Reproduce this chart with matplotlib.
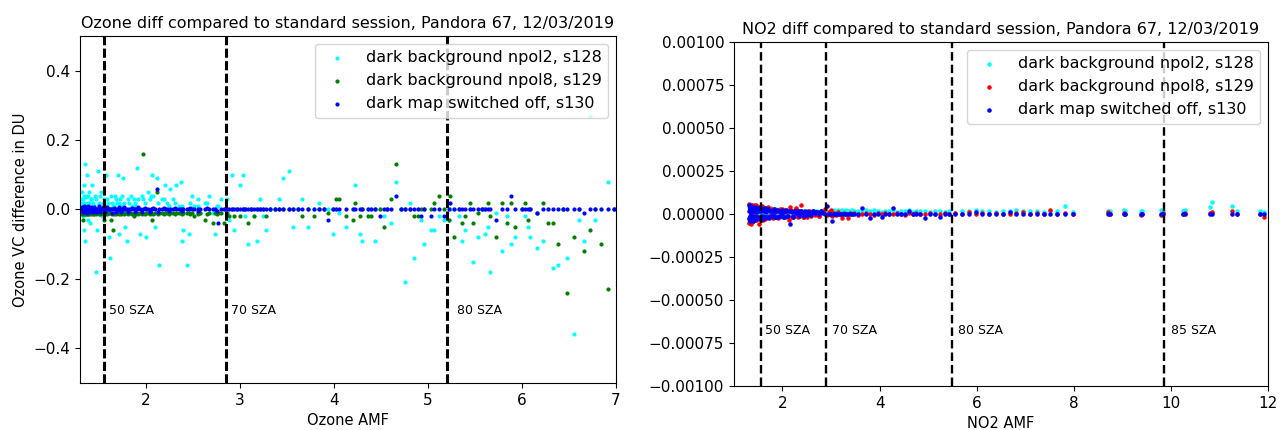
import matplotlib
matplotlib.use("Agg")
import matplotlib.pyplot as plt

# ---- ozone: air mass factor and VC difference to standard session (DU)
o3_amf = [
    1.32, 1.32, 1.33, 1.33, 1.34, 1.34, 1.35, 1.35, 1.36, 1.36,
    1.37, 1.38, 1.39, 1.40, 1.41, 1.42, 1.43, 1.44, 1.46, 1.47,
    1.48, 1.49, 1.50, 1.52, 1.53, 1.55, 1.56, 1.58, 1.60, 1.61,
    1.62, 1.63, 1.65, 1.67, 1.69, 1.70, 1.71, 1.73, 1.75, 1.76,
    1.78, 1.80, 1.82, 1.84, 1.87, 1.89, 1.91, 1.94, 1.97, 2.00,
    2.02, 2.05, 2.07, 2.10, 2.12, 2.14, 2.17, 2.20, 2.23, 2.26,
    2.29, 2.32, 2.35, 2.37, 2.38, 2.40, 2.44, 2.46, 2.49, 2.51,
    2.55, 2.58, 2.63, 2.67, 2.71, 2.74, 2.77, 2.80, 2.83, 2.86,
    2.89, 2.92, 2.94, 2.97, 3.00, 3.03, 3.06, 3.09, 3.12, 3.15,
    3.18, 3.21, 3.25, 3.28, 3.32, 3.37, 3.42, 3.46, 3.52, 3.57,
    3.62, 3.66, 3.73, 3.79, 3.84, 3.90, 3.94, 3.99, 4.02, 4.06,
    4.13, 4.20, 4.23, 4.28, 4.30, 4.36, 4.40, 4.44, 4.49, 4.53,
    4.57, 4.61, 4.66, 4.71, 4.76, 4.81, 4.85, 4.89, 4.93, 4.96,
    5.03, 5.07, 5.12, 5.17, 5.22, 5.24, 5.28, 5.33, 5.36, 5.40,
    5.45, 5.48, 5.53, 5.58, 5.61, 5.64, 5.66, 5.73, 5.79, 5.84,
    5.88, 5.93, 6.00, 6.03, 6.07, 6.09, 6.16, 6.22, 6.28, 6.33,
    6.38, 6.44, 6.48, 6.55, 6.61, 6.66, 6.72, 6.78, 6.84, 6.92,
    6.98,
    # second half of the day, around noon
    1.32, 1.33, 1.34, 1.35, 1.36, 1.37, 1.38, 1.40, 1.42, 1.44,
    1.45, 1.47, 1.50, 1.51, 1.54, 1.57, 1.59, 1.64, 1.66, 1.68,
    1.72, 1.74, 1.77, 1.81, 1.85, 1.88, 1.92, 1.96, 1.99, 2.04,
    2.08, 2.13, 2.19, 2.25, 2.31, 2.39, 2.47, 2.56, 2.65, 2.76,
]
o3_s128 = [
    0.02, 0.05, -0.02, 0.03, 0.07, -0.06, 0.13, -0.09, 0.01, 0.04,
    0.10, -0.03, 0.02, 0.05, -0.04, 0.03, 0.07, 0.01, 0.04, -0.18,
    -0.06, 0.11, 0.02, 0.05, -0.02, 0.03, 0.0, 0.10, 0.02, -0.08,
    -0.14, 0.04, 0.01, 0.04, 0.02, 0.10, -0.07, 0.03, 0.04, 0.09,
    -0.05, -0.09, 0.02, 0.04, 0.03, 0.01, 0.12, -0.07, 0.03, -0.08,
    0.05, 0.04, 0.10, -0.05, 0.09, -0.16, 0.03, 0.07, 0.02, 0.06,
    0.03, 0.07, 0.01, 0.08, -0.09, -0.06, -0.16, -0.07, 0.04, 0.01,
    0.03, -0.01, 0.02, 0.04, -0.01, -0.07, 0.01, 0.03, 0.0, 0.03,
    -0.03, 0.10, -0.06, 0.0, 0.07, 0.10, -0.02, -0.10, 0.0, -0.02,
    -0.09, 0.03, -0.02, -0.06, 0.0, 0.0, 0.03, 0.09, 0.11, -0.05,
    0.0, 0.03, -0.05, 0.0, 0.02, 0.0, 0.0, -0.07, 0.0, -0.01,
    -0.05, 0.0, 0.07, -0.07, -0.09, 0.0, 0.0, -0.09, 0.0, -0.02,
    0.0, -0.04, 0.08, 0.0, -0.21, 0.02, -0.14, 0.0, -0.03, -0.10,
    -0.06, -0.06, -0.02, -0.03, -0.03, 0.0, 0.0, -0.02, -0.09, -0.06,
    0.0, -0.15, -0.08, 0.0, -0.07, -0.05, -0.18, -0.01, -0.12, -0.02,
    -0.10, -0.08, 0.0, -0.02, -0.05, -0.08, -0.11, -0.09, 0.0, -0.17,
    -0.16, 0.0, -0.14, -0.36, -0.03, -0.09, 0.27, -0.03, 0.0, 0.08,
    0.0,
    0.03, 0.01, 0.04, 0.02, 0.035, 0.015, 0.04, 0.02, 0.03, 0.02,
    0.01, 0.03, 0.015, 0.04, 0.02, 0.01, 0.03, 0.02, 0.01, 0.03,
    0.02, 0.01, 0.02, 0.03, 0.01, 0.02, 0.03, 0.04, 0.02, 0.03,
    0.04, 0.02, 0.03, 0.01, 0.02, 0.01, 0.02, 0.01, 0.02, 0.01,
]
o3_s129 = [
    -0.009, -0.01, -0.008, -0.03, -0.009, -0.01, -0.009, -0.008, -0.01, -0.009,
    -0.009, -0.01, -0.009, -0.008, -0.01, -0.009, -0.01, -0.009, -0.01, -0.009,
    -0.008, -0.01, -0.009, -0.01, -0.009, -0.03, -0.009, -0.01, -0.009, -0.01,
    -0.009, -0.03, -0.06, -0.009, -0.01, -0.009, -0.01, -0.009, -0.009, -0.01,
    -0.009, -0.01, -0.009, -0.01, -0.02, -0.009, -0.01, -0.009, 0.16, -0.01,
    -0.009, -0.009, -0.03, -0.009, 0.05, -0.01, -0.009, -0.01, -0.009, -0.01,
    -0.009, -0.01, -0.009, -0.01, -0.009, -0.01, -0.009, -0.01, -0.009, -0.02,
    -0.009, -0.01, -0.03, -0.009, -0.04, -0.009, -0.01, -0.009, -0.04, -0.01,
    -0.02, 0.0, -0.02, 0.0, -0.02, 0.0, 0.0, -0.04, 0.0, -0.02,
    0.0, 0.0, 0.0, -0.02, 0.0, 0.0, 0.0, 0.0, 0.0, 0.0,
    0.0, -0.02, 0.0, -0.02, 0.0, 0.0, -0.01, 0.0, 0.03, 0.03,
    -0.02, -0.03, 0.02, -0.02, 0.0, -0.02, -0.02, 0.0, 0.0, -0.05,
    0.0, 0.03, 0.13, 0.0, 0.0, 0.0, -0.02, -0.02, 0.0, 0.0,
    0.0, 0.02, 0.04, 0.0, -0.03, 0.04, -0.08, 0.0, -0.04, -0.02,
    0.02, -0.04, -0.01, 0.0, 0.0, 0.02, -0.02, -0.08, 0.02, -0.04,
    0.02, -0.05, 0.0, 0.02, -0.03, 0.0, -0.01, 0.02, -0.04, -0.04,
    -0.10, 0.0, -0.24, -0.08, 0.0, -0.12, -0.06, 0.0, -0.10, -0.23,
    0.0,
    -0.012, -0.013, -0.012, -0.012, -0.013, -0.012, -0.012, -0.013, -0.012, -0.012,
    -0.013, -0.012, -0.012, -0.013, -0.012, -0.012, -0.013, -0.012, -0.012, -0.013,
    -0.012, -0.012, -0.013, -0.012, -0.012, -0.013, -0.012, -0.012, -0.013, -0.012,
    -0.012, -0.013, -0.012, -0.012, -0.013, -0.012, -0.012, -0.013, -0.012, -0.012,
]
o3_s130 = [
    0.0, 0.003, -0.003, 0.0, 0.0, 0.004, 0.0, -0.004, 0.0, 0.0,
    0.003, 0.0, 0.0, -0.003, 0.0, 0.0, 0.0, 0.004, 0.0, 0.0,
    0.0, -0.003, 0.0, 0.0, 0.0, 0.0, 0.003, 0.0, 0.0, 0.0,
    0.0, 0.0, 0.0, 0.0, 0.0, 0.0, 0.0, 0.0, 0.0, 0.0,
    0.0, 0.0, 0.0, 0.0, 0.0, 0.0, 0.0, 0.0, 0.0, 0.0,
    0.0, 0.0, 0.0, 0.0, 0.06, 0.0, 0.0, 0.0, 0.0, 0.0,
    0.0, 0.0, 0.0, 0.0, 0.0, 0.0, 0.0, 0.0, 0.0, 0.0,
    0.0, 0.0, 0.0, 0.0, 0.0, 0.0, -0.04, 0.0, 0.0, 0.0,
    0.0, 0.0, 0.0, 0.0, 0.0, 0.0, 0.0, 0.0, 0.0, 0.0,
    0.0, 0.0, 0.0, 0.0, 0.0, 0.0, 0.0, 0.0, 0.0, 0.0,
    0.0, 0.0, 0.0, 0.0, 0.0, 0.0, -0.03, 0.0, 0.0, 0.0,
    0.0, 0.0, 0.0, 0.0, 0.0, 0.0, 0.0, 0.0, -0.02, 0.0,
    0.0, 0.0, 0.04, 0.0, 0.0, 0.0, 0.0, 0.0, -0.02, 0.0,
    -0.02, 0.0, 0.0, -0.02, 0.0, 0.02, 0.0, 0.0, 0.0, 0.0,
    0.0, 0.0, 0.0, 0.0, 0.0, 0.0, 0.0, -0.03, 0.0, 0.0,
    0.04, 0.0, 0.0, 0.0, 0.0, 0.0, -0.01, 0.0, 0.0, 0.0,
    0.0, 0.0, 0.0, 0.0, 0.0, -0.01, 0.0, 0.0, 0.0, 0.0,
    0.0,
    0.008, -0.008, 0.01, -0.006, 0.007, -0.009, 0.009, -0.008, 0.006, -0.008,
    0.008, -0.007, 0.01, -0.008, 0.006, -0.008, 0.007, -0.009, 0.005, -0.008,
    0.006, -0.007, 0.008, -0.006, 0.005, -0.008, 0.006, -0.007, 0.005, -0.006,
    0.004, -0.006, 0.005, -0.005, 0.004, -0.005, 0.003, -0.004, 0.003, -0.004,
]
o3_sza_amf = [1.55, 2.85, 5.2]
o3_sza_text_x = [1.61, 2.91, 5.31]

# ---- NO2: air mass factor and VC difference to standard session
no2_amf = [
    1.32, 1.32, 1.33, 1.33, 1.34, 1.34, 1.35, 1.35, 1.36, 1.36,
    1.37, 1.38, 1.39, 1.40, 1.41, 1.42, 1.43, 1.44, 1.46, 1.47,
    1.48, 1.50, 1.52, 1.54, 1.56, 1.58, 1.60, 1.62, 1.64, 1.66,
    1.68, 1.71, 1.74, 1.77, 1.80, 1.83, 1.86, 1.89, 1.92, 1.95,
    1.98, 2.01, 2.04, 2.07, 2.10, 2.13, 2.16, 2.19, 2.22, 2.25,
    2.28, 2.31, 2.35, 2.39, 2.43, 2.47, 2.51, 2.55, 2.59, 2.63,
    2.67, 2.71, 2.75, 2.79, 2.83, 2.87, 2.91, 2.95, 2.99, 3.03,
    3.07, 3.11, 3.15, 3.19, 3.23, 3.27, 3.31, 3.35, 3.39, 3.43,
    3.48, 3.56, 3.64, 3.72, 3.80, 3.88, 3.96, 4.04, 4.12, 4.20,
    4.28, 4.36, 4.44, 4.52, 4.60, 4.68, 4.76, 4.84, 4.94, 5.04,
    5.14, 5.24, 5.34, 5.44, 5.56, 5.70, 5.84, 5.98, 6.12, 6.26,
    6.40, 6.54, 6.68, 6.82, 6.96, 7.10, 7.24, 7.38, 7.52, 7.66,
    7.82, 7.98, 8.71, 8.74, 9.03, 9.06, 9.38, 9.41, 9.79, 9.84,
    10.26, 10.30, 10.81, 10.84, 11.27, 11.37, 11.83, 11.91,
    # second half of the day, around noon
    1.32, 1.33, 1.33, 1.34, 1.35, 1.35, 1.36, 1.37, 1.38, 1.39,
    1.40, 1.41, 1.43, 1.44, 1.45, 1.47, 1.49, 1.51, 1.53, 1.55,
    1.57, 1.59, 1.61, 1.63, 1.65, 1.67, 1.70, 1.73, 1.76, 1.79,
    1.82, 1.85, 1.88, 1.91, 1.94, 1.97, 2.00, 2.04, 2.08, 2.12,
    2.17, 2.22, 2.27, 2.33, 2.39, 2.45, 2.52, 2.59, 2.67, 2.75,
]
no2_s128 = [
    -4.5e-5, 4.0e-5, -3.5e-5, 2.0e-5, -4.8e-5, 5.0e-5, -3.0e-5, 1.0e-5, -4.0e-5, 3.0e-5,
    -2.0e-5, 4.5e-5, -3.8e-5, 2.5e-5, -1.5e-5, 4.0e-5, -2.5e-5, 3.5e-5, -1.0e-5, 2.0e-5,
    4.5e-5, -2.0e-5, 3.0e-5, 1.0e-5, 4.0e-5, -1.5e-5, 2.5e-5, 3.5e-5, 0.5e-5, 2.0e-5,
    3.0e-5, -1.0e-5, 2.5e-5, 3.5e-5, 1.5e-5, 2.0e-5, 3.0e-5, 0.5e-5, 2.0e-5, 2.5e-5,
    1.0e-5, 2.0e-5, 2.5e-5, 1.5e-5, 2.0e-5, 1.0e-5, 2.5e-5, 1.5e-5, 2.0e-5, 1.0e-5,
    1.5e-5, 2.0e-5, 1.0e-5, 1.5e-5, 2.0e-5, 1.0e-5, 1.5e-5, 1.0e-5, 2.0e-5, 1.5e-5,
    1.0e-5, 1.5e-5, 1.0e-5, 2.0e-5, 1.0e-5, 1.5e-5, 0.5e-5, 1.0e-5, 1.5e-5, 2.0e-5,
    2.5e-5, 2.0e-5, 2.5e-5, 1.5e-5, 2.5e-5, 2.0e-5, 2.5e-5, 1.5e-5, 2.0e-5, 2.5e-5,
    1.5e-5, 2.0e-5, 1.0e-5, 2.5e-5, 1.5e-5, 2.5e-5, 2.0e-5, 1.0e-5, 2.0e-5, 1.5e-5,
    2.5e-5, 1.0e-5, 2.0e-5, 1.5e-5, 2.5e-5, 1.0e-5, 2.0e-5, 1.5e-5, 2.0e-5, 1.0e-5,
    1.5e-5, 2.0e-5, 1.0e-5, 1.5e-5, 0.5e-5, 2.0e-5, 1.5e-5, 2.5e-5, 1.5e-5, 2.0e-5,
    1.0e-5, 2.0e-5, 1.5e-5, 2.5e-5, 2.0e-5, 1.5e-5, 2.0e-5, 1.0e-5, 2.0e-5, 1.5e-5,
    4.9e-5, 1.0e-5, 2.0e-5, 1.5e-5, 2.5e-5, 2.0e-5, 2.0e-5, 1.5e-5, 2.5e-5, 1.5e-5,
    2.0e-5, 2.5e-5, 3.9e-5, 6.8e-5, 4.9e-5, 2.0e-5, 1.5e-5, 1.0e-5,
    -5.0e-5, -4.5e-5, 5.5e-5, -4.0e-5, -5.0e-5, 4.5e-5, -4.5e-5, -3.5e-5, 5.0e-5, -4.0e-5,
    3.0e-5, -3.0e-5, 4.5e-5, 2.0e-5, -3.5e-5, 4.0e-5, 1.0e-5, 3.5e-5, -2.0e-5, 2.5e-5,
    3.0e-5, 1.0e-5, 2.5e-5, 3.5e-5, 2.0e-5, 1.0e-5, 3.0e-5, 2.0e-5, 1.5e-5, 2.5e-5,
    2.0e-5, 1.0e-5, 2.5e-5, 1.5e-5, 2.0e-5, 1.0e-5, 1.5e-5, 2.0e-5, 1.0e-5, 1.5e-5,
    1.0e-5, 2.0e-5, 1.5e-5, 1.0e-5, 2.0e-5, 1.5e-5, 1.0e-5, 1.5e-5, 2.0e-5, 1.0e-5,
]
no2_s129 = [
    6.0e-5, -3.0e-5, 4.5e-5, -1.5e-5, 3.0e-5, -4.0e-5, 5.0e-5, -2.0e-5, 2.0e-5, -5.8e-5,
    4.0e-5, -3.5e-5, 1.0e-5, 3.5e-5, -2.5e-5, 5.0e-5, -1.0e-5, 2.5e-5, -3.5e-5, 4.0e-5,
    -2.0e-5, 3.0e-5, -5.8e-5, 2.0e-5, -3.5e-5, 4.5e-5, -1.5e-5, 3.0e-5, -3.0e-5, 2.5e-5,
    -2.0e-5, 3.5e-5, -1.0e-5, 2.0e-5, -2.5e-5, 3.0e-5, -1.5e-5, 2.5e-5, -2.0e-5, 1.5e-5,
    3.0e-5, -1.0e-5, 2.5e-5, -2.0e-5, 1.5e-5, -3.5e-5, 4.0e-5, -1.5e-5, 2.0e-5, -1.0e-5,
    3.0e-5, -1.5e-5, 1.5e-5, 5.0e-5, -2.0e-5, 1.0e-5, -1.5e-5, 2.0e-5, -1.0e-5, 1.5e-5,
    -0.5e-5, 1.0e-5, -1.0e-5, 2.0e-5, 1.0e-5, 3.0e-5, -0.5e-5, 1.0e-5, 2.5e-5, -1.0e-5,
    0.5e-5, -0.5e-5, 1.0e-5, 0.0, -2.5e-5, 0.5e-5, 0.0, -2.5e-5, 0.5e-5, 0.0,
    0.5e-5, -0.5e-5, 0.0, 0.5e-5, 0.0, -0.5e-5, 0.5e-5, 0.0, 0.5e-5, 0.0,
    0.0, 0.5e-5, 0.0, -0.5e-5, 0.5e-5, 0.0, 0.5e-5, 0.0, 0.0, 0.5e-5,
    0.0, 0.0, 0.5e-5, 0.0, 0.5e-5, 0.0, 1.0e-5, 0.0, 0.5e-5, 0.0,
    0.5e-5, 0.0, 0.0, 0.5e-5, 1.0e-5, 0.0, 0.5e-5, 0.0, 2.5e-5, 0.0,
    0.5e-5, 0.0, 1.0e-5, 0.0, 0.5e-5, 0.0, -0.6e-5, 0.0, -0.6e-5, 0.5e-5,
    0.0, 0.5e-5, 0.5e-5, 1.0e-5, 1.5e-5, 0.0, 0.0, -1.6e-5,
    -5.0e-5, 5.5e-5, -3.0e-5, 4.0e-5, -4.5e-5, 3.0e-5, 5.0e-5, -2.5e-5, 3.5e-5, -4.0e-5,
    4.5e-5, -2.0e-5, 3.0e-5, -3.5e-5, 5.0e-5, -1.5e-5, 2.5e-5, -3.0e-5, 4.0e-5, -2.0e-5,
    2.5e-5, -3.5e-5, 3.5e-5, -1.5e-5, 2.0e-5, -2.5e-5, 4.0e-5, -1.0e-5, 3.0e-5, -2.0e-5,
    2.5e-5, -1.5e-5, 2.0e-5, -2.5e-5, 3.0e-5, -1.0e-5, 2.0e-5, -1.5e-5, 2.5e-5, -1.0e-5,
    1.5e-5, -2.0e-5, 3.5e-5, -1.0e-5, 1.5e-5, -1.5e-5, 2.0e-5, -0.5e-5, 1.0e-5, -1.0e-5,
]
no2_s130 = [
    2.0e-5, -2.5e-5, 4.0e-5, -1.0e-5, 3.0e-5, -3.0e-5, 1.0e-5, -2.0e-5, 3.5e-5, 0.0,
    -1.5e-5, 2.5e-5, -3.0e-5, 1.5e-5, 3.0e-5, -2.0e-5, 2.0e-5, -1.0e-5, 3.0e-5, -2.5e-5,
    1.0e-5, -1.5e-5, 2.5e-5, -2.5e-5, 1.5e-5, 3.0e-5, -1.0e-5, 2.0e-5, -2.0e-5, 1.0e-5,
    2.5e-5, -1.5e-5, 1.5e-5, -1.0e-5, 2.0e-5, 0.5e-5, -2.0e-5, 1.5e-5, -1.0e-5, 2.0e-5,
    0.5e-5, -1.5e-5, 1.0e-5, 2.5e-5, -1.0e-5, 1.5e-5, -6.0e-5, 1.0e-5, -1.5e-5, 2.0e-5,
    0.5e-5, 1.5e-5, -1.0e-5, 1.0e-5, 0.5e-5, 2.0e-5, -0.5e-5, 1.0e-5, 0.5e-5, 1.5e-5,
    0.5e-5, 1.0e-5, 0.0, 1.5e-5, 0.5e-5, 0.0, 4.5e-5, 0.0, 0.0, -3.9e-5,
    0.0, 0.0, 0.0, 0.0, 0.0, 0.0, 0.0, 0.0, 0.0, 0.0,
    0.0, 0.0, 3.3e-5, 0.0, -2.5e-5, 0.0, 0.0, -1.6e-5, 0.0, 0.0,
    3.3e-5, 0.0, 0.0, 0.0, 2.0e-5, 0.0, 0.0, 0.0, -2.5e-5, 0.0,
    0.0, -1.6e-5, 0.0, 0.0, 0.0, 0.0, 0.0, 1.0e-5, 0.0, 0.0,
    0.0, 0.0, 1.0e-5, 0.0, 0.0, 0.0, 0.0, 0.0, 0.0, 0.0,
    0.0, 0.0, 0.0, 0.0, 0.0, 0.0, 0.0, 0.0, 0.0, 0.0,
    0.0, 0.0, 0.0, 0.0, 0.0, 0.0, 0.0, 0.0,
    5.0e-5, -4.0e-5, 3.0e-5, -2.0e-5, 4.5e-5, -3.5e-5, 1.0e-5, 4.0e-5, -3.0e-5, 2.5e-5,
    -4.0e-5, 3.5e-5, -1.5e-5, 4.0e-5, -3.0e-5, 2.0e-5, 3.5e-5, -2.5e-5, 4.0e-5, -1.0e-5,
    3.0e-5, -3.0e-5, 2.5e-5, -2.0e-5, 3.5e-5, -1.5e-5, 3.0e-5, -2.5e-5, 2.0e-5, -1.0e-5,
    3.0e-5, -2.0e-5, 2.5e-5, -1.5e-5, 2.0e-5, -1.0e-5, 2.5e-5, -1.5e-5, 1.5e-5, -1.0e-5,
    2.0e-5, -1.0e-5, 1.5e-5, -0.5e-5, 1.5e-5, -1.0e-5, 1.0e-5, -0.5e-5, 1.0e-5, 0.5e-5,
]
no2_sza_amf = [1.55, 2.9, 5.5, 9.85]
no2_sza_text_x = [1.64, 3.02, 5.62, 10.0]

sza_labels = ["50 SZA", "70 SZA", "80 SZA", "85 SZA"]
series_labels = [
    "dark background npol2, s128",
    "dark background npol8, s129",
    "dark map switched off, s130",
]
title_tail = " diff compared to standard session, Pandora 67, 12/03/2019"

plt.rcParams.update({
    "xtick.labelsize": 11,
    "ytick.labelsize": 11,
    "axes.titlesize": 11.5,
    "axes.labelsize": 10.5,
    "legend.fontsize": 11.5,
})

fig = plt.figure(figsize=(12.82, 4.30), dpi=100)
ax1 = fig.add_axes([0.0624, 0.1093, 0.418, 0.807])
ax2 = fig.add_axes([0.5725, 0.1023, 0.4165, 0.800])

# left: ozone
ax1.scatter(o3_amf, o3_s128, s=4, c="cyan", label=series_labels[0])
ax1.scatter(o3_amf, o3_s129, s=4, c="green", label=series_labels[1])
ax1.scatter(o3_amf, o3_s130, s=4, c="blue", label=series_labels[2])
for i in range(len(o3_sza_amf)):
    ax1.axvline(o3_sza_amf[i], color="k", lw=2.2, dashes=(3.0, 1.1))
    ax1.text(o3_sza_text_x[i], -0.3, sza_labels[i], fontsize=9)
ax1.set_xlim(1.3, 7.0)
ax1.set_ylim(-0.5, 0.5)
ax1.set_xlabel("Ozone AMF")
ax1.set_ylabel("Ozone VC difference in DU")
ax1.set_title("Ozone" + title_tail)
ax1.legend(loc="upper right")

# right: NO2
ax2.scatter(no2_amf, no2_s128, s=5, c="cyan", label=series_labels[0])
ax2.scatter(no2_amf, no2_s129, s=5, c="red", label=series_labels[1])
ax2.scatter(no2_amf, no2_s130, s=5, c="blue", label=series_labels[2])
for i in range(len(no2_sza_amf)):
    ax2.axvline(no2_sza_amf[i], color="k", lw=1.7, dashes=(3.6, 1.7))
    ax2.text(no2_sza_text_x[i], -0.0007, sza_labels[i], fontsize=9)
ax2.set_xlim(1.0, 12.0)
ax2.set_ylim(-0.001, 0.001)
ax2.ticklabel_format(axis="y", style="plain", useOffset=False)
ax2.set_xlabel("NO2 AMF")
ax2.set_title("NO2" + title_tail)
ax2.legend(loc="upper right")

fig.savefig("out.png", dpi=100)
